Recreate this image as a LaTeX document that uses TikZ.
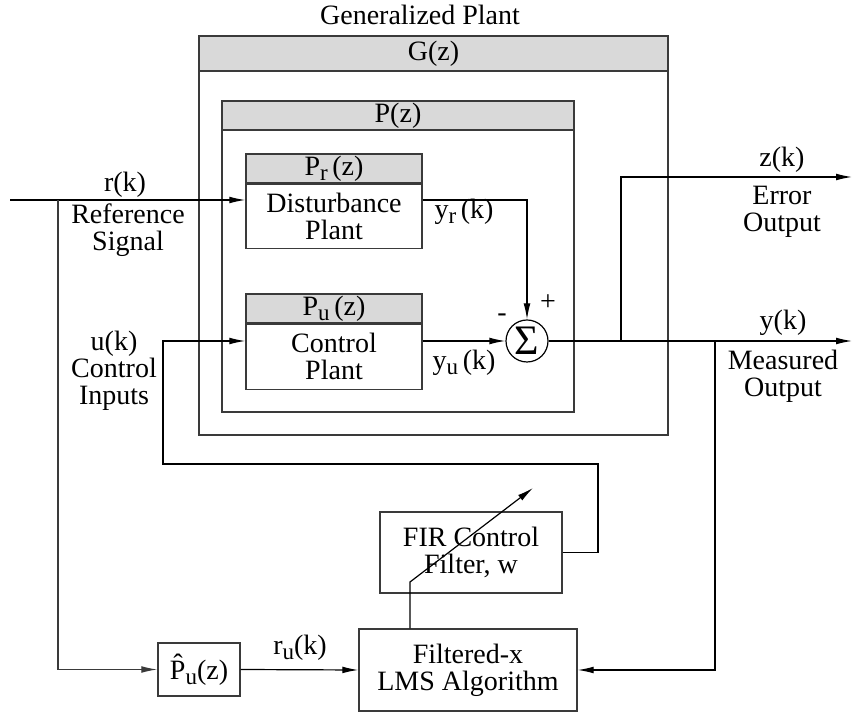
\documentclass[tikz,border=0pt]{standalone}
\usepackage{fontspec}
\setmainfont{Liberation Serif}
\usetikzlibrary{arrows.meta,calc}
\definecolor{hdrgray}{HTML}{D9D9D9}
\definecolor{edge}{HTML}{3A3A3A}
\newcommand\lsub[1]{\raisebox{-2.6pt}{\fontsize{11.5}{11.5}\selectfont #1}}
\begin{document}
\begin{tikzpicture}[x=0.5pt,y=-0.5pt,
  font=\fontsize{14}{13.5}\selectfont,
  every path/.style={line width=0.6pt},
  arr/.style={-{Latex[length=8pt,width=3.4pt]}},
  blk/.style={draw=edge, rectangle, inner sep=0pt, line width=0.7pt, align=center},
  hdr/.style={blk, fill=hdrgray},
  lbl/.style={align=center, inner sep=0pt}]
\useasboundingbox (0,0) rectangle (852,715);

% Generalized plant G
\node[blk, minimum width=234.5pt, minimum height=199.5pt] (G) at (433.5,235.5) {};
\node[hdr, minimum width=234.5pt, minimum height=17.5pt, anchor=north] (Gh) at (G.north) {G(z)};
\node[lbl] (gtitle) at (420,15) {Generalized Plant};

% P
\node[blk, minimum width=176pt, minimum height=155.5pt] (P) at (398,256.5) {};
\node[hdr, minimum width=176pt, minimum height=14.5pt, anchor=north] (Ph) at (P.north) {P(z)};

% Pr
\node[hdr, minimum width=88pt, minimum height=14.5pt] (Prh) at (334,168.5) {P\lsub{r}\,(z)};
\node[blk, minimum width=88pt, minimum height=32pt, anchor=north] (Pr) at (Prh.south) {Disturbance\\Plant};

% Pu
\node[hdr, minimum width=88pt, minimum height=14.5pt] (Puh) at (334,308.5) {P\lsub{u}\,(z)};
\node[blk, minimum width=88pt, minimum height=32.5pt, anchor=north] (Pu) at (Puh.south) {Control\\Plant};

% Sum
\node[draw=black, circle, minimum size=21pt, inner sep=0pt] (S) at (527,341) {\fontsize{21}{21}\selectfont Σ};
\node[lbl] (minus) at (502,318) {-};
\node[lbl] (plus) at (548,303) {+};

% lower blocks
\node[blk, minimum width=41pt, minimum height=26.5pt] (Ph) at (199,669.5) {\^{P}\lsub{u}(z)};
\node[blk, minimum width=109pt, minimum height=41pt] (LMS) at (468,670) {Filtered-x\\LMS Algorithm};
\node[blk, minimum width=91pt, minimum height=40.5pt] (FIR) at (471,552.5) {FIR Control\\Filter, w};

% coordinates
\coordinate (rin) at (10,200);
\coordinate (rb) at (58,200);
\coordinate (zb) at (621,341);
\coordinate (zout) at (852,177);
\coordinate (yout) at (852,341);
\coordinate (yb) at (715,341);
\coordinate (c1) at (598,464);
\coordinate (c2) at (163,464);
\coordinate (a1) at (410,582);
\coordinate (a2) at (533,488);

% connectors
\draw[arr] (rin) -- (rin -| Pr.west);
\draw[arr, draw=edge] (rb) |- (Ph.west);
\draw[arr] (Ph.east) -- (LMS.west);
\draw[arr] (rin -| Pr.east) -| (S.north);
\draw[arr] (S -| Pu.east) -- (S.west);
\draw[arr] (S.east) -- (yout);
\draw[arr] (zb) |- (zout);
\draw[arr] (yb) |- (LMS.east);
\draw[arr] (FIR.east) -| (c1) -- (c2) |- (S -| Pu.west);
\draw[arr] (a1 |- LMS.north) -- (a1) -- (a2);

% labels
\node[lbl] (rk) at (125,185) {r(k)};
\node[lbl] (rsig) at (128,230) {Reference\\Signal};
\node[lbl] (uk) at (114,371) {u(k)\\Control\\Inputs};
\node[lbl] (yrk) at (464,212) {y\lsub{r}\,(k)};
\node[lbl] (yuk) at (464,363) {y\lsub{u}\,(k)};
\node[lbl] (zk) at (782,160) {z(k)};
\node[lbl] (eo) at (782,212) {Error\\Output};
\node[lbl] (yk) at (783,323) {y(k)};
\node[lbl] (mo) at (783,376) {Measured\\Output};
\node[lbl] (ruk) at (300,648) {r\lsub{u}(k)};
\end{tikzpicture}
\end{document}
